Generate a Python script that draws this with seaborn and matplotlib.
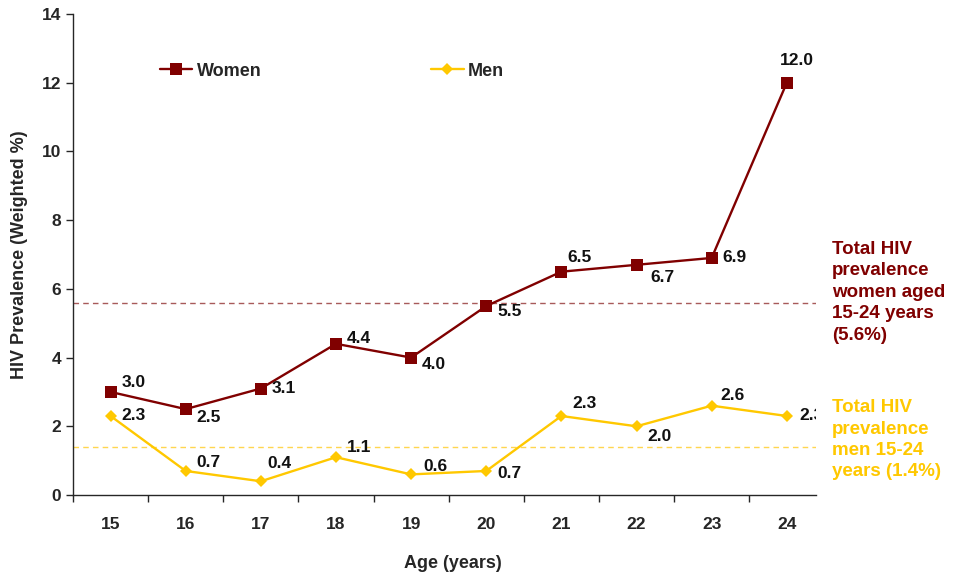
import numpy as np
import pandas as pd
import seaborn as sb
from matplotlib import pyplot as plt
from matplotlib.ticker import FixedLocator

ages = [15, 16, 17, 18, 19, 20, 21, 22, 23, 24]
women = [3.0, 2.5, 3.1, 4.4, 4.0, 5.5, 6.5, 6.7, 6.9, 12.0]
men = [2.3, 0.7, 0.4, 1.1, 0.6, 0.7, 2.3, 2.0, 2.6, 2.3]
women_total = 5.6
men_total = 1.4

# label offsets in points (dx, dy, ha)
women_off = [(8, 7, 'left'), (8, -6, 'left'), (8, 0, 'left'), (8, 4, 'left'), (8, -5, 'left'),
             (8, -4, 'left'), (4, 10, 'left'), (10, -9, 'left'), (8, 0, 'left'), (7, 16, 'center')]
men_off = [(8, 0, 'left'), (8, 6, 'left'), (5, 13, 'left'), (8, 7, 'left'), (9, 6, 'left'),
           (8, -2, 'left'), (8, 9, 'left'), (8, -7, 'left'), (6, 7, 'left'), (9, 0, 'left')]

WOMEN_C = '#800000'
MEN_C = '#FFC800'

sb.set_style('ticks')
plt.rcParams['font.family'] = ['Liberation Sans', 'DejaVu Sans']
plt.rcParams['font.weight'] = 'bold'

df = pd.DataFrame({'age': ages * 2, 'value': women + men,
                   'sex': ['Women'] * len(ages) + ['Men'] * len(ages)})

fig = plt.figure(figsize=(9.59, 5.76), dpi=100)
ax = fig.add_axes([0.0761, 0.1406, 0.851 - 0.0761, 0.9757 - 0.1406])

sb.lineplot(data=df, x='age', y='value', hue='sex', style='sex',
            palette={'Women': WOMEN_C, 'Men': MEN_C},
            markers={'Women': 's', 'Men': 'D'}, dashes=False,
            markersize=8, markeredgewidth=0, linewidth=1.7, ax=ax)
for line in ax.get_lines():
    if line.get_color() == MEN_C or line.get_label() == 'Men':
        line.set_markersize(6.5)

ax.axhline(women_total, color='#a85a5a', linestyle=(0, (4, 3)), linewidth=1.0, zorder=0)
ax.axhline(men_total, color='#ffd64f', linestyle=(0, (4, 3)), linewidth=1.0, zorder=0)

for x, v, (dx, dy, ha) in zip(ages, women, women_off):
    ax.annotate(f'{v:.1f}', (x, v), xytext=(dx, dy), textcoords='offset points',
                ha=ha, va='center', fontsize=12.5, fontweight='bold', color='#111111')
for x, v, (dx, dy, ha) in zip(ages, men, men_off):
    ax.annotate(f'{v:.1f}', (x, v), xytext=(dx, dy), textcoords='offset points',
                ha=ha, va='center', fontsize=12.5, fontweight='bold', color='#111111',
                annotation_clip=False, clip_on=True)

ax.set_xlim(14.5, 24.39)
ax.set_ylim(0, 14)
ax.set_yticks(np.arange(0, 15, 2))
ax.set_xticks(ages)
ax.xaxis.set_minor_locator(FixedLocator([a - 0.5 for a in ages]))
ax.tick_params(axis='x', which='major', length=0, pad=16, labelsize=12.5)
ax.tick_params(axis='x', which='minor', length=5, width=1)
ax.tick_params(axis='y', length=5, width=1, labelsize=12.5)
for lab in ax.get_xticklabels() + ax.get_yticklabels():
    lab.set_fontweight('bold')
sb.despine(ax=ax)
ax.spines['left'].set_linewidth(1)
ax.spines['bottom'].set_linewidth(1)

ax.set_xlabel('Age (years)', fontsize=13, fontweight='bold')
ax.xaxis.set_label_coords(0.511, -0.125)
ax.set_ylabel('HIV Prevalence (Weighted %)', fontsize=13, fontweight='bold', labelpad=10)

ax.legend(loc='upper left', bbox_to_anchor=(0.107, 0.914), ncol=2, frameon=False,
          columnspacing=9.4, handlelength=1.8, handletextpad=0.25, borderaxespad=0,
          prop={'weight': 'bold', 'size': 13})

fig.text(0.8675, 0.5815, 'Total HIV\nprevalence\nwomen aged\n15-24 years\n(5.6%)',
         color=WOMEN_C, fontsize=13.5, fontweight='bold', va='top', ha='left', linespacing=1.34)
fig.text(0.8675, 0.307, 'Total HIV\nprevalence\nmen 15-24\nyears (1.4%)',
         color=MEN_C, fontsize=13.5, fontweight='bold', va='top', ha='left', linespacing=1.34)

fig.savefig('out.png', dpi=100)
